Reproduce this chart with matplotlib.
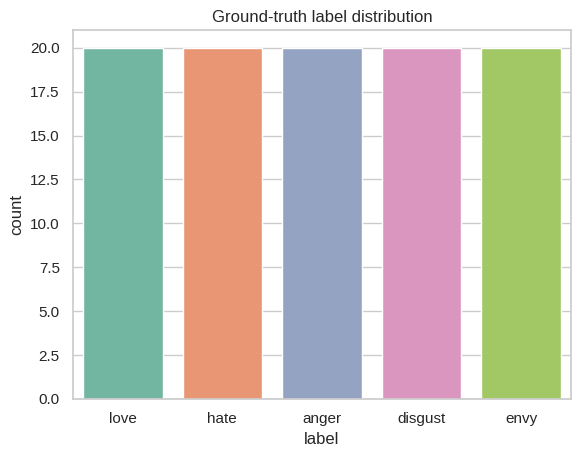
import matplotlib
matplotlib.use("Agg")
import matplotlib.pyplot as plt
import seaborn as sns

labels = ["love", "hate", "anger", "disgust", "envy"]
counts = [20, 20, 20, 20, 20]

sns.set_theme(style="whitegrid")
plt.rcParams["font.family"] = ["Liberation Sans", "DejaVu Sans"]

fig = plt.figure(figsize=(5.79, 4.57), dpi=100)
ax = fig.add_axes([0.126, 0.127, 0.86, 0.807])
sns.barplot(x=labels, y=counts, hue=labels, palette="Set2", legend=False, ax=ax)
ax.set_xlabel("label")
ax.set_ylabel("count")
ax.set_title("Ground-truth label distribution")
ax.set_yticks([0, 2.5, 5, 7.5, 10, 12.5, 15, 17.5, 20])
ax.set_yticklabels(["0.0", "2.5", "5.0", "7.5", "10.0", "12.5", "15.0", "17.5", "20.0"])

fig.savefig("out.png", dpi=100)
